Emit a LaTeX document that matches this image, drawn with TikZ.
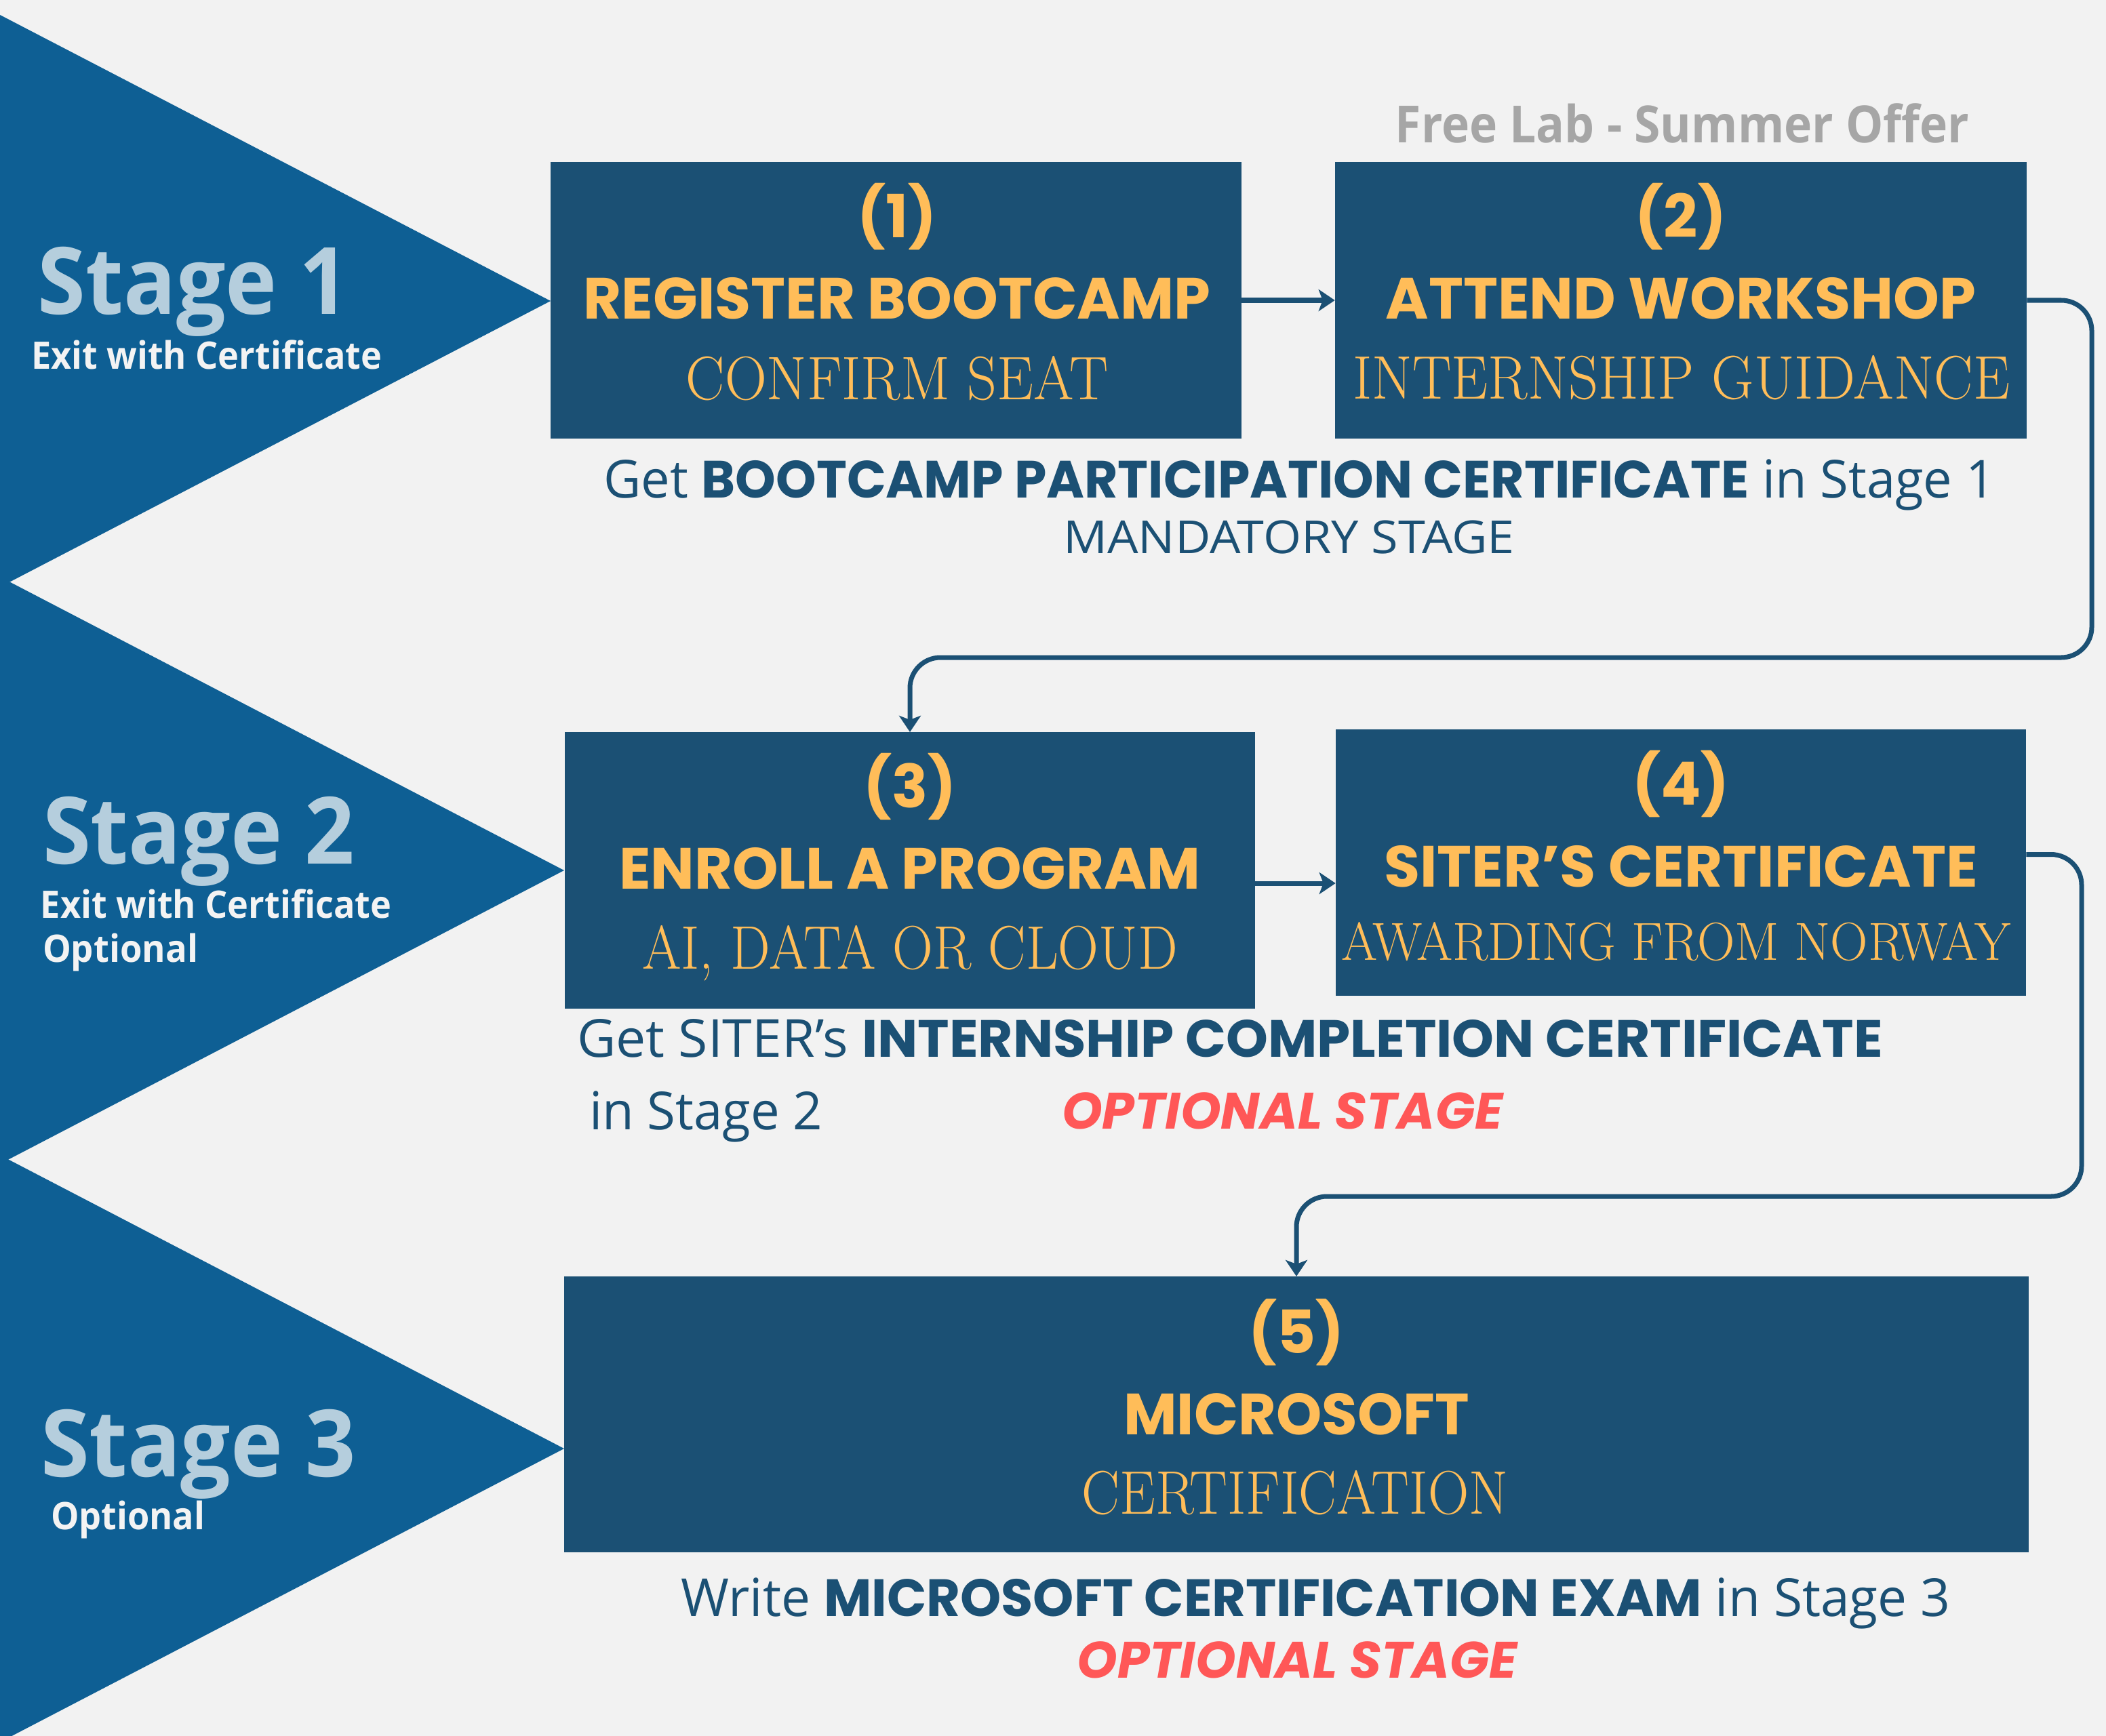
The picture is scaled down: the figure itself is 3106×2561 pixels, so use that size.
\documentclass[tikz,border=0pt]{standalone}
\usepackage{fontspec}
\usetikzlibrary{arrows.meta,calc}
\newfontfamily\osans{Open Sans}
\newfontfamily\pop{Poppins}
\definecolor{bgc}{RGB}{242,242,242}
\definecolor{tri}{RGB}{14,95,148}
\definecolor{boxc}{RGB}{27,80,116}
\definecolor{gold}{RGB}{255,189,89}
\definecolor{stg}{RGB}{181,206,221}
\definecolor{wht}{RGB}{243,243,243}
\definecolor{redc}{RGB}{255,87,87}
\definecolor{grayc}{RGB}{166,166,166}
\newcommand\hw[2]{\resizebox{#1}{\height}{#2}}
\newcommand\fsz[1]{\fontsize{#1}{#1}\selectfont}
\begin{document}
\begin{tikzpicture}[x=0.01cm,y=-0.01cm,
  tx/.style={inner sep=0pt, outer sep=0pt},
  boxn/.style={fill=boxc, draw=none, inner sep=0pt, outer sep=0pt},
  stagef/.style={tx, anchor=base west, text=stg, font=\osans\bfseries\fsz{39pt}},
  exitf/.style={tx, anchor=base west, text=wht, font=\osans\bfseries\fsz{15.9pt}},
  numf/.style={tx, anchor=base, text=gold, font=\pop\bfseries\fsz{25pt}},
  headf/.style={tx, anchor=base, text=gold, font=\pop\bfseries\fsz{24.4pt}},
  descf/.style={tx, anchor=base, text=gold, font=\rmfamily\fsz{25.8pt}},
  subf/.style={tx, text=boxc, font=\osans\fsz{22pt}},
  redf/.style={tx, text=redc, font=\pop\bfseries\itshape\fsz{21.5pt}},
  conn/.style={draw=boxc, line width=0.07cm, rounded corners=0.45cm,
    -{Stealth[length=0.24cm,width=0.32cm,inset=0.06cm]}}]
\useasboundingbox (0,0) rectangle (3106,2561);
\fill[bgc] (0,0) rectangle (3106,2561);
\clip (0,0) rectangle (3106,2561);
% stage triangles
\fill[tri] (0,22) -- (812,444) -- (0,866) -- cycle;
\fill[tri] (0,851) -- (832,1284) -- (0,1717) -- cycle;
\fill[tri] (0,1704) -- (832,2137) -- (0,2570) -- cycle;
\node[stagef] (s1) at (56,464) {\hw{4.59cm}{Stage 1}};
\node[exitf] (e1) at (46,544) {\hw{5.17cm}{Exit with Certificate}};
\node[stagef] (s2) at (63,1274) {\hw{4.60cm}{Stage 2}};
\node[exitf] (e2) at (60,1354) {\hw{5.17cm}{Exit with Certificate}};
\node[exitf] (o2) at (63,1419) {\hw{2.29cm}{Optional}};
\node[stagef] (s3) at (60,2178) {\hw{4.65cm}{Stage 3}};
\node[exitf] (o3) at (75,2256) {\hw{2.27cm}{Optional}};
% boxes
\node[boxn, minimum width=10.19cm, minimum height=4.08cm] (b1) at (1321.5,443) {};
\node[boxn, minimum width=10.20cm, minimum height=4.08cm] (b2) at (2479,443) {};
\node[boxn, minimum width=10.18cm, minimum height=4.08cm] (b3) at (1342,1284) {};
\node[boxn, minimum width=10.18cm, minimum height=3.93cm] (b4) at (2479,1272.5) {};
\node[boxn, minimum width=21.58cm, minimum height=4.07cm] (b5) at (1912,2086.5) {};
% box texts
\node[numf] (n1) at (1323,351) {(1)};
\node[headf] (h1) at (1323,471) {\hw{9.24cm}{REGISTER BOOTCAMP}};
\node[descf] (d1) at (1323,590) {\hw{6.22cm}{CONFIRM SEAT}};
\node[numf] (n2) at (2479,351) {(2)};
\node[headf] (h2) at (2479,471) {\hw{8.70cm}{ATTEND WORKSHOP}};
\node[descf] (d2) at (2480,589) {\hw{9.68cm}{INTERNSHIP GUIDANCE}};
\node[numf] (n3) at (1342,1191) {(3)};
\node[headf] (h3) at (1342,1311) {\hw{8.57cm}{ENROLL A PROGRAM}};
\node[descf] (d3) at (1342,1429) {\hw{7.89cm}{AI, DATA OR CLOUD}};
\node[numf] (n4) at (2479,1187) {(4)};
\node[headf] (h4) at (2479,1308) {\hw{8.75cm}{SITER’S CERTIFICATE}};
\node[descf, font=\rmfamily\fsz{22.5pt}] (d4) at (2472,1416) {\hw{9.86cm}{AWARDING FROM NORWAY}};
\node[numf] (n5) at (1912,1996) {(5)};
\node[headf] (h5) at (1912,2116) {\hw{5.09cm}{MICROSOFT}};
\node[descf] (d5) at (1910,2233) {\hw{6.28cm}{CERTIFICATION}};
% captions
\node[tx, anchor=base, text=grayc, font=\osans\bfseries\fsz{21.5pt}] (fl) at (2481,211) {\hw{8.46cm}{Free Lab - Summer Offer}};
\node[subf, anchor=base] (g1) at (1916.5,734) {\hw{20.51cm}{Get {\pop\bfseries BOOTCAMP PARTICIPATION CERTIFICATE} in Stage 1}};
\node[subf, anchor=base, font=\osans\fsz{19.1pt}] (m1) at (1901,816) {\hw{6.65cm}{MANDATORY STAGE}};
\node[subf, anchor=base west] (g2) at (851,1559) {\hw{19.25cm}{Get SITER’s {\pop\bfseries INTERNSHIP COMPLETION CERTIFICATE}}};
\node[subf, anchor=base west] (i2) at (869,1666) {\hw{3.44cm}{in Stage 2}};
\node[redf, anchor=base west] (r2) at (1566,1665) {\hw{6.50cm}{OPTIONAL STAGE}};
\node[subf, anchor=base] (g3) at (1940.5,2384) {\hw{18.71cm}{Write {\pop\bfseries MICROSOFT CERTIFICATION EXAM} in Stage 3}};
\node[redf, anchor=base] (r3) at (1913,2475) {\hw{6.48cm}{OPTIONAL STAGE}};
% connectors
\coordinate (c1) at (3085,970);
\coordinate (c2) at (3070,1765);
\coordinate (a3) at ($(b3.east)+(0,19)$);
\coordinate (a4) at ($(b4.east)+(0,-12)$);
\draw[conn] (b1.east) -- (b2.west);
\draw[conn] (b2.east) -| (c1) -| (b3.north);
\draw[conn] (a3) -- (a3 -| b4.west);
\draw[conn] (a4) -| (c2) -| (b5.north);
\end{tikzpicture}
\end{document}
